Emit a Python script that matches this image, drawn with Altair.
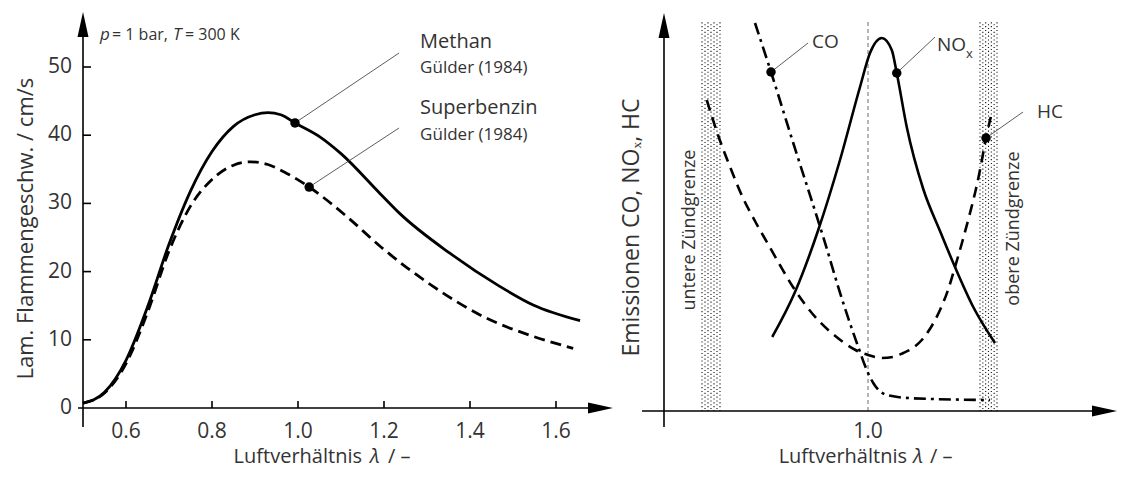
import altair as alt
import pandas as pd
import numpy as np

# ---------------- data: left panel (laminar flame speed) ----------------
methan_lam = [0.50, 0.55, 0.60, 0.65, 0.70, 0.75, 0.80, 0.85, 0.90, 0.93, 0.96, 0.993, 1.05, 1.10, 1.19, 1.237, 1.353, 1.47, 1.547, 1.656]
methan_v = [0.7, 2.3, 7.0, 14.8, 24.0, 31.8, 37.6, 41.3, 43.0, 43.3, 43.0, 41.8, 39.8, 37.3, 31.5, 28.5, 22.7, 17.8, 15.1, 12.8]
benzin_lam = [0.50, 0.55, 0.60, 0.65, 0.70, 0.75, 0.80, 0.85, 0.89, 0.93, 0.974, 1.026, 1.113, 1.195, 1.315, 1.431, 1.547, 1.64]
benzin_v = [0.7, 2.2, 6.5, 14.0, 23.0, 29.6, 33.5, 35.6, 36.1, 35.7, 34.4, 32.4, 28.1, 23.5, 17.8, 13.4, 10.5, 8.75]
left_xticks = [0.6, 0.8, 1.0, 1.2, 1.4, 1.6]
left_yticks = [0, 10, 20, 30, 40, 50]
methan_dot = (0.993, 41.8)
benzin_dot = (1.026, 32.4)

# ---------------- data: right panel (emissions, schematic) ----------------
nox_lam = [0.617, 0.708, 0.801, 0.888, 0.968, 1.008, 1.055, 1.095, 1.115, 1.155, 1.221, 1.288, 1.348, 1.421, 1.508]
nox_v = [74, 119, 181, 251, 324, 358, 373, 361, 338, 284, 222, 180, 144, 104, 68]
hc_lam = [0.355, 0.40, 0.45, 0.50, 0.55, 0.60, 0.65, 0.70, 0.75, 0.80, 0.85, 0.90, 0.95, 1.00, 1.055, 1.10, 1.141, 1.18, 1.215, 1.25, 1.288, 1.32, 1.348, 1.378, 1.408, 1.43, 1.448, 1.472, 1.491]
hc_v = [311, 276, 243, 213, 189, 167, 145, 124, 106, 91, 79, 69, 61, 56, 53, 54, 58, 63, 71, 83, 101, 121, 144, 170, 198, 220, 241, 273, 294]
co_lam = [0.548, 0.612, 0.701, 0.821, 0.901, 0.961, 0.995, 1.021, 1.075, 1.181, 1.488]
co_v = [388, 339, 268, 174, 108, 64, 41, 28, 16, 12.7, 11]
right_xticks = [1.0]
co_dot = (0.612, 339)
nox_dot = (1.115, 338)
hc_dot = (1.472, 273)
band_lo = [0.336, 1.448]
band_hi = [0.408, 1.516]
band_top = 389

FONT = "Open Sans"
TXT = "#333333"
WGT = 400

LX = alt.Scale(domain=[0.5, 2.9047], nice=False, zero=False)
LY = alt.Scale(domain=[0, 58.651], nice=False, zero=False)
RX = alt.Scale(domain=[-2.14, 1.996], nice=False, zero=False)
RY = alt.Scale(domain=[3, 403], nice=False, zero=False)

RIGHT_ARROW = "M-1,-0.44L1,0L-1,0.44Z"
UP_ARROW = "M-0.44,1L0,-1L0.44,1Z"


def rules(rows, sx, sy, **mk):
    df = pd.DataFrame(rows, columns=["x", "x2", "y", "y2"])
    return alt.Chart(df).mark_rule(**mk).encode(
        x=alt.X("x:Q", scale=sx, axis=None), x2="x2:Q",
        y=alt.Y("y:Q", scale=sy, axis=None), y2="y2:Q")


def points(rows, sx, sy, mark):
    df = pd.DataFrame(rows, columns=["x", "y"])
    return mark(alt.Chart(df)).encode(
        x=alt.X("x:Q", scale=sx, axis=None), y=alt.Y("y:Q", scale=sy, axis=None))


def arrow(rows, sx, sy, shape):
    return points(rows, sx, sy, lambda c: c.mark_point(shape=shape, size=625, filled=True,
                                                       color="black", opacity=1, strokeWidth=0))


def txt(rows, sx, sy, size, align="left", angle=0, italic=False, color=TXT):
    df = pd.DataFrame(rows, columns=["x", "y", "t"])
    return alt.Chart(df).mark_text(
        align=align, baseline="middle", fontSize=size, font=FONT,
        fontStyle="italic" if italic else "normal", fontWeight=WGT,
        angle=angle, color=color).encode(
        x=alt.X("x:Q", scale=sx, axis=None), y=alt.Y("y:Q", scale=sy, axis=None),
        text="t:N")


def curve(lam, val, sx, sy, width, dash=None):
    df = pd.DataFrame({"lam": lam, "v": val})
    kw = dict(interpolate="monotone", color="black", strokeWidth=width)
    if dash:
        kw["strokeDash"] = dash
    return alt.Chart(df).mark_line(**kw).encode(
        x=alt.X("lam:Q", scale=sx, axis=None), y=alt.Y("v:Q", scale=sy, axis=None))


# ---------------- left panel ----------------
left_axes = rules(
    [(0.4884, 1.70, 0, 0), (0.5, 0.5, -2.79, 56.0)]
    + [(t, t, 0, 1.03) for t in left_xticks]
    + [(0.5, 0.5186, t, t) for t in left_yticks[1:]],
    LX, LY, color="black", strokeWidth=1.6)
left_arrows = alt.layer(arrow([(1.7035, 0)], LX, LY, RIGHT_ARROW),
                        arrow([(0.5, 56.23)], LX, LY, UP_ARROW))
l_xlab = txt([(t, -3.52, f"{t:.1f}") for t in left_xticks], LX, LY, 21, align="center")
l_ylab = txt([(0.4744, t, f"{t:d}") for t in left_yticks], LX, LY, 21, align="right")
l_methan = curve(methan_lam, methan_v, LX, LY, 2.8)
l_benzin = curve(benzin_lam, benzin_v, LX, LY, 2.8, dash=[11, 6])
l_leaders = rules([(methan_dot[0], 1.235, methan_dot[1], 52.05),
                   (benzin_dot[0], 1.235, benzin_dot[1], 41.06)], LX, LY, color="#333", strokeWidth=0.8)
l_dots = points([methan_dot, benzin_dot], LX, LY,
                lambda c: c.mark_circle(size=90, color="black", opacity=1))
l_big = txt([(1.284, 53.67, "Methan"), (1.284, 44.0, "Superbenzin")], LX, LY, 20)
l_small = txt([(1.284, 49.85, "Gülder (1984)"), (1.284, 40.0, "Gülder (1984)")], LX, LY, 17)
l_cond_it = txt([(0.5395, 54.69, "p"), (0.7093, 54.69, "T")], LX, LY, 17, italic=True)
l_cond = txt([(0.5674, 54.69, "= 1 bar,"), (0.7372, 54.69, "= 300 K")], LX, LY, 16)
l_xt1 = txt([(1.1488, -7.2, "Luftverhältnis")], LX, LY, 20, align="right")
l_xt2 = txt([(1.179, -7.2, "λ")], LX, LY, 20, align="center", italic=True)
l_xt3 = txt([(1.2093, -7.2, "/ –")], LX, LY, 20)
l_yt = txt([(0.3675, 26.3, "Lam. Flammengeschw. / cm/s")], LX, LY, 22, align="center", angle=270)

left = alt.layer(l_methan, l_benzin, left_axes, left_arrows, l_xlab, l_ylab, l_leaders, l_dots,
                 l_big, l_small, l_cond_it, l_cond, l_xt1, l_xt2, l_xt3, l_yt)

# ---------------- right panel ----------------
band_layers = []
for k, off in ((0, 0.0), (1, 1.9)):
    cols = []
    for lo, hi in zip(band_lo, band_hi):
        xs = np.linspace(lo, hi, 7)
        cols += [(float(x), float(x), 0, band_top) for i, x in enumerate(xs) if i % 2 == k]
    band_layers.append(rules(cols, RX, RY, color="#111", strokeWidth=1.1,
                             strokeDash=[1.1, 2.7], strokeDashOffset=off))
r_stoich = rules([(1.0, 1.0, 0, band_top)], RX, RY, color="#444", strokeWidth=0.8, strokeDash=[4, 3])
r_axes = rules([(0.096, 1.93, 0, 0), (0.184, 0.184, -16, 385)], RX, RY, color="black", strokeWidth=1.6)
r_arrows = alt.layer(arrow([(1.946, 0)], RX, RY, RIGHT_ARROW),
                     arrow([(0.184, 385.5)], RX, RY, UP_ARROW))
r_nox = curve(nox_lam, nox_v, RX, RY, 2.6)
r_hc = curve(hc_lam, hc_v, RX, RY, 2.6, dash=[11, 7])
r_co = curve(co_lam, co_v, RX, RY, 2.6, dash=[12, 5, 3, 5])
r_leaders = rules([(co_dot[0], 0.76, co_dot[1], 368), (nox_dot[0], 1.268, nox_dot[1], 374),
                   (hc_dot[0], 1.62, hc_dot[1], 299)], RX, RY, color="#333", strokeWidth=0.8)
r_dots = points([co_dot, nox_dot, hc_dot], RX, RY,
                lambda c: c.mark_circle(size=90, color="black", opacity=1))
r_labels = txt([(0.776, 369, "CO"), (1.276, 366, "NO"), (1.676, 299, "HC")], RX, RY, 19)
r_sub = txt([(1.392, 357, "x")], RX, RY, 13)
r_limits = txt([(0.288, 181, "untere Zündgrenze"), (1.584, 182.5, "obere Zündgrenze")], RX, RY, 18,
               align="center", angle=270)
r_tick = txt([(t, -20.5, f"{t:.1f}") for t in right_xticks], RX, RY, 21, align="center")
r_xt1 = txt([(1.156, -46, "Luftverhältnis")], RX, RY, 20, align="right")
r_xt2 = txt([(1.2, -46, "λ")], RX, RY, 20, align="center", italic=True)
r_xt3 = txt([(1.248, -46, "/ –")], RX, RY, 20)
r_yt = txt([(0.056, 183.5, "Emissionen CO, NOₓ, HC")], RX, RY, 23, align="center", angle=270)

right = alt.layer(*band_layers, r_stoich, r_axes, r_arrows, r_nox, r_hc, r_co, r_leaders, r_dots,
                  r_labels, r_sub, r_limits, r_tick, r_xt1, r_xt2, r_xt3, r_yt)

chart = alt.layer(left, right).resolve_scale(x="independent", y="independent").properties(
    width=1034, height=400,
    autosize=alt.AutoSizeParams(type="none"),
    padding={"left": 75, "top": 0, "right": 0, "bottom": 60},
).configure(font=FONT, background="white").configure_view(stroke="transparent", strokeWidth=0)

chart.save("out.html", embed_options={"renderer": "svg", "actions": False})
